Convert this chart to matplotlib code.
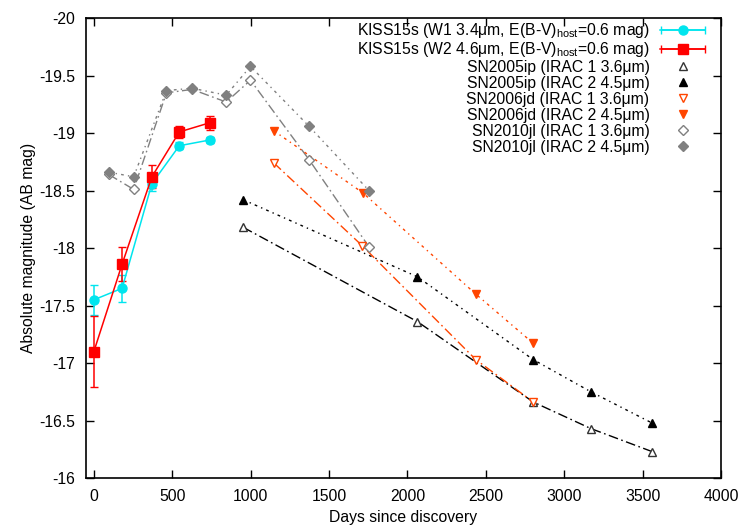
import numpy as np
import matplotlib
matplotlib.use("Agg")
import matplotlib.pyplot as plt
from matplotlib.container import ErrorbarContainer
from matplotlib.legend_handler import HandlerErrorbar

plt.rcParams['font.family'] = ['Liberation Sans', 'DejaVu Sans']
plt.rcParams['mathtext.fontset'] = 'custom'
plt.rcParams['mathtext.rm'] = 'Liberation Sans'
plt.rcParams['axes.unicode_minus'] = False

# KISS15s (WISE)
kiss_days = [0, 180, 370, 545, 740]
kiss_w1 = [-17.55, -17.65, -18.56, -18.89, -18.94]
kiss_w1_err = [0.13, 0.12, 0.06, 0.03, 0.03]
kiss_w2 = [-17.10, -17.86, -18.62, -19.01, -19.09]
kiss_w2_err = [0.31, 0.15, 0.10, 0.05, 0.06]

# SN2005ip
sn05_d1 = [953, 2064, 2804, 3170, 3560]
sn05_m1 = [-18.18, -17.36, -16.66, -16.43, -16.23]
sn05_d2 = [953, 2064, 2802, 3170, 3558]
sn05_m2 = [-18.42, -17.75, -17.03, -16.75, -16.48]

# SN2006jd
sn06_d1 = [1148, 1712, 2436, 2804]
sn06_m1 = [-18.74, -18.02, -17.03, -16.66]
sn06_d2 = [1148, 1716, 2436, 2804]
sn06_m2 = [-19.02, -18.48, -17.60, -17.17]

# SN2010jl
sn10_d1 = [95, 254, 463, 627, 844, 999, 1372, 1755]
sn10_m1 = [-18.64, -18.51, -19.35, -19.38, -19.27, -19.46, -18.77, -18.01]
sn10_d2 = [95, 254, 463, 627, 844, 999, 1372, 1755]
sn10_m2 = [-18.66, -18.62, -19.37, -19.39, -19.33, -19.58, -19.06, -18.50]

y_ticks = [-20, -19.5, -19, -18.5, -18, -17.5, -17, -16.5, -16]
y_ticklabels = ['-20', '-19.5', '-19', '-18.5', '-18', '-17.5', '-17', '-16.5', '-16']
x_ticks = [0, 500, 1000, 1500, 2000, 2500, 3000, 3500, 4000]

cyan = '#00e5ee'
red = '#ff0000'
orange = '#ff4500'
gray = '#808080'
dash1 = (0, (7, 2.5, 1.2, 2.5))
dash2 = (0, (2, 3, 1, 3))
fs = 11.3

fig = plt.figure(figsize=(7.5, 5.25), dpi=100)
ax = fig.add_axes([0.1147, 0.0895, 0.8466, 0.876])

# lines for comparison SNe (not in legend)
ax.plot(sn10_d1, sn10_m1, color=gray, lw=1, ls=dash1)
ax.plot(sn10_d2, sn10_m2, color=gray, lw=1, ls=dash2)
ax.plot(sn05_d1, sn05_m1, color='black', lw=1, ls=dash1)
ax.plot(sn05_d2, sn05_m2, color='black', lw=1, ls=dash2)
ax.plot(sn06_d1, sn06_m1, color=orange, lw=1, ls=dash1)
ax.plot(sn06_d2, sn06_m2, color=orange, lw=1, ls=dash2)

# KISS15s
ax.errorbar(kiss_days, kiss_w1, yerr=kiss_w1_err, fmt='o-', color=cyan, ms=6.5,
            lw=1.1, capsize=3, elinewidth=1.1, zorder=5)
ax.errorbar(kiss_days, kiss_w2, yerr=kiss_w2_err, fmt='s-', color=red, ms=6.5,
            lw=1.1, capsize=3, elinewidth=1.1, zorder=5)

# legend proxies for KISS15s (horizontal bars like gnuplot)
p1 = ax.errorbar([np.nan], [np.nan], xerr=[1], fmt='o-', color=cyan, ms=6.5, lw=1.1,
                 capsize=3, label=r'KISS15s (W1 3.4μm, E(B-V)$_{\mathrm{host}}$=0.6 mag)')
p2 = ax.errorbar([np.nan], [np.nan], xerr=[1], fmt='s-', color=red, ms=6.5, lw=1.1,
                 capsize=3, label=r'KISS15s (W2 4.6μm, E(B-V)$_{\mathrm{host}}$=0.6 mag)')

h3, = ax.plot(sn05_d1, sn05_m1, ls='none', marker='^', mfc='white', mec='#333333', ms=6,
              mew=1, label='SN2005ip (IRAC 1 3.6μm)')
h4, = ax.plot(sn05_d2, sn05_m2, ls='none', marker='^', color='black', ms=6,
              label='SN2005ip (IRAC 2 4.5μm)')
h5, = ax.plot(sn06_d1, sn06_m1, ls='none', marker='v', mfc='white', mec=orange, ms=6,
              mew=1, label='SN2006jd (IRAC 1 3.6μm)')
h6, = ax.plot(sn06_d2, sn06_m2, ls='none', marker='v', color=orange, ms=6,
              label='SN2006jd (IRAC 2 4.5μm)')
h7, = ax.plot(sn10_d1, sn10_m1, ls='none', marker='D', mfc='white', mec=gray, ms=5,
              mew=1, label='SN2010jl (IRAC 1 3.6μm)')
h8, = ax.plot(sn10_d2, sn10_m2, ls='none', marker='D', color=gray, ms=5,
              label='SN2010jl (IRAC 2 4.5μm)')

ax.set_xlim(-50, 4000)
ax.set_ylim(-16, -20)
ax.set_xticks(x_ticks)
ax.set_yticks(y_ticks)
ax.set_yticklabels(y_ticklabels)
ax.tick_params(direction='in', top=True, right=True, length=6, width=1,
               labelsize=fs, pad=8)
for s in ax.spines.values():
    s.set_linewidth(1.2)

ax.set_xlabel('Days since discovery', fontsize=fs)
ax.set_ylabel('Absolute magnitude (AB mag)', fontsize=fs, labelpad=2)

common = dict(loc='upper right', frameon=False, markerfirst=False, fontsize=fs,
              handlelength=2.85, handletextpad=0.7, borderpad=0, borderaxespad=0)
kiss_handles = [p1, p2]
leg1 = ax.legend(handles=kiss_handles, labels=[h.get_label() for h in kiss_handles],
                 bbox_to_anchor=(0.975, 0.993), labelspacing=0.0,
                 handler_map={ErrorbarContainer: HandlerErrorbar(xerr_size=1.4)},
                 **common)
ax.add_artist(leg1)
sn_handles = [h3, h4, h5, h6, h7, h8]
ax.legend(handles=sn_handles, labels=[h.get_label() for h in sn_handles],
          bbox_to_anchor=(0.975, 0.909), labelspacing=0.06, **common)

fig.savefig('out.png', dpi=100)
